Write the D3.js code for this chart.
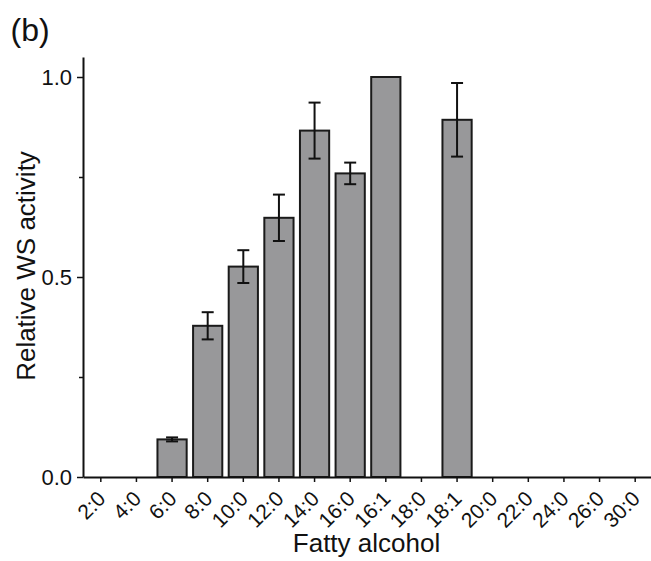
<!DOCTYPE html>
<html>
<head>
<meta charset="utf-8">
<script src="https://cdn.jsdelivr.net/npm/d3@7"></script>
<style>
  html, body { margin: 0; padding: 0; background: #fff; }
  svg { display: block; font-family: "Liberation Sans", Arial, sans-serif; }
</style>
</head>
<body>
<svg id="chart" width="651" height="561"></svg>
<script>
// Fatty alcohol chain lengths tested
const categories = ["2:0", "4:0", "6:0", "8:0", "10:0", "12:0", "14:0", "16:0",
                    "16:1", "18:0", "18:1", "20:0", "22:0", "24:0", "26:0", "30:0"];
// Mean relative WS activity (normalised to 16:1)
const activity = [0, 0, 0.094, 0.378, 0.526, 0.648, 0.866, 0.759,
                  1.0, 0, 0.893, 0, 0, 0, 0, 0];
// Error (+/-) for each mean
const errors = [0, 0, 0.005, 0.034, 0.041, 0.058, 0.070, 0.027,
                0, 0, 0.092, 0, 0, 0, 0, 0];
const majorTicks = [0, 0.5, 1.0];
const minorTicks = [0.25, 0.75];

const data = categories.map((c, i) => ({ cat: c, value: activity[i], err: errors[i] }));

const svg = d3.select("#chart");
const plotLeft = 83, plotRight = 653, plotTop = 57, plotBottom = 477;
const ink = "#111";

const x = d3.scaleBand()
  .domain(categories)
  .range([plotLeft, plotRight])
  .paddingInner(0.18)
  .paddingOuter(0.09);

const y = d3.scaleLinear()
  .domain([0, 1.05])
  .range([plotBottom, plotTop]);

// Bars
svg.append("g")
  .selectAll("rect")
  .data(data.filter(d => d.value > 0))
  .join("rect")
  .attr("x", d => x(d.cat))
  .attr("y", d => y(d.value))
  .attr("width", x.bandwidth())
  .attr("height", d => y(0) - y(d.value))
  .attr("fill", "#98989a")
  .attr("stroke", "#1a1a1a")
  .attr("stroke-width", 2);

// Error bars
const eb = svg.append("g")
  .selectAll("g")
  .data(data.filter(d => d.err > 0))
  .join("g")
  .attr("stroke", ink)
  .attr("stroke-width", 2);
const cx = d => x(d.cat) + x.bandwidth() / 2;
const capHalf = 6;
eb.append("line")
  .attr("x1", cx).attr("x2", cx)
  .attr("y1", d => y(d.value + d.err))
  .attr("y2", d => y(d.value - d.err));
eb.append("line")
  .attr("x1", d => cx(d) - capHalf).attr("x2", d => cx(d) + capHalf)
  .attr("y1", d => y(d.value + d.err)).attr("y2", d => y(d.value + d.err));
eb.append("line")
  .attr("x1", d => cx(d) - capHalf).attr("x2", d => cx(d) + capHalf)
  .attr("y1", d => y(d.value - d.err)).attr("y2", d => y(d.value - d.err));

// Y axis (major ticks with labels, minor ticks without)
const yAxis = svg.append("g")
  .attr("transform", `translate(${plotLeft},0)`)
  .call(d3.axisLeft(y).tickValues(majorTicks).tickFormat(d3.format(".1f"))
    .tickSize(6).tickPadding(5).tickSizeOuter(0));
yAxis.select(".domain").attr("stroke", ink).attr("stroke-width", 2);
yAxis.selectAll(".tick line").attr("stroke", ink).attr("stroke-width", 1.5);
yAxis.selectAll(".tick text").attr("font-size", 22).attr("fill", ink)
  .attr("font-family", "Liberation Sans, Arial, sans-serif");

const yMinor = svg.append("g")
  .attr("transform", `translate(${plotLeft},0)`)
  .call(d3.axisLeft(y).tickValues(minorTicks).tickFormat("").tickSize(4).tickSizeOuter(0));
yMinor.select(".domain").remove();
yMinor.selectAll(".tick line").attr("stroke", ink).attr("stroke-width", 1.5);

// X axis
const xAxis = svg.append("g")
  .attr("transform", `translate(0,${plotBottom})`)
  .call(d3.axisBottom(x).tickSize(5).tickSizeOuter(0));
xAxis.select(".domain").attr("stroke", ink).attr("stroke-width", 2);
xAxis.selectAll(".tick line").attr("stroke", ink).attr("stroke-width", 1.5);
xAxis.selectAll(".tick text")
  .attr("font-size", 21)
  .attr("fill", ink)
  .attr("font-family", "Liberation Sans, Arial, sans-serif")
  .attr("text-anchor", "end")
  .attr("y", 0).attr("dy", 0)
  .attr("transform", "translate(6,23) rotate(-45)");

// Axis titles
svg.append("text")
  .attr("x", (plotLeft + 651) / 2 - 0.5)
  .attr("y", 552)
  .attr("text-anchor", "middle")
  .attr("font-size", 26)
  .attr("fill", ink)
  .text("Fatty alcohol");

svg.append("text")
  .attr("transform", "translate(34.5,266) rotate(-90)")
  .attr("text-anchor", "middle")
  .attr("font-size", 26)
  .attr("fill", ink)
  .text("Relative WS activity");

// Panel label
svg.append("text")
  .attr("x", 10.5)
  .attr("y", 41)
  .attr("font-size", 32)
  .attr("fill", ink)
  .text("(b)");
</script>
</body>
</html>
